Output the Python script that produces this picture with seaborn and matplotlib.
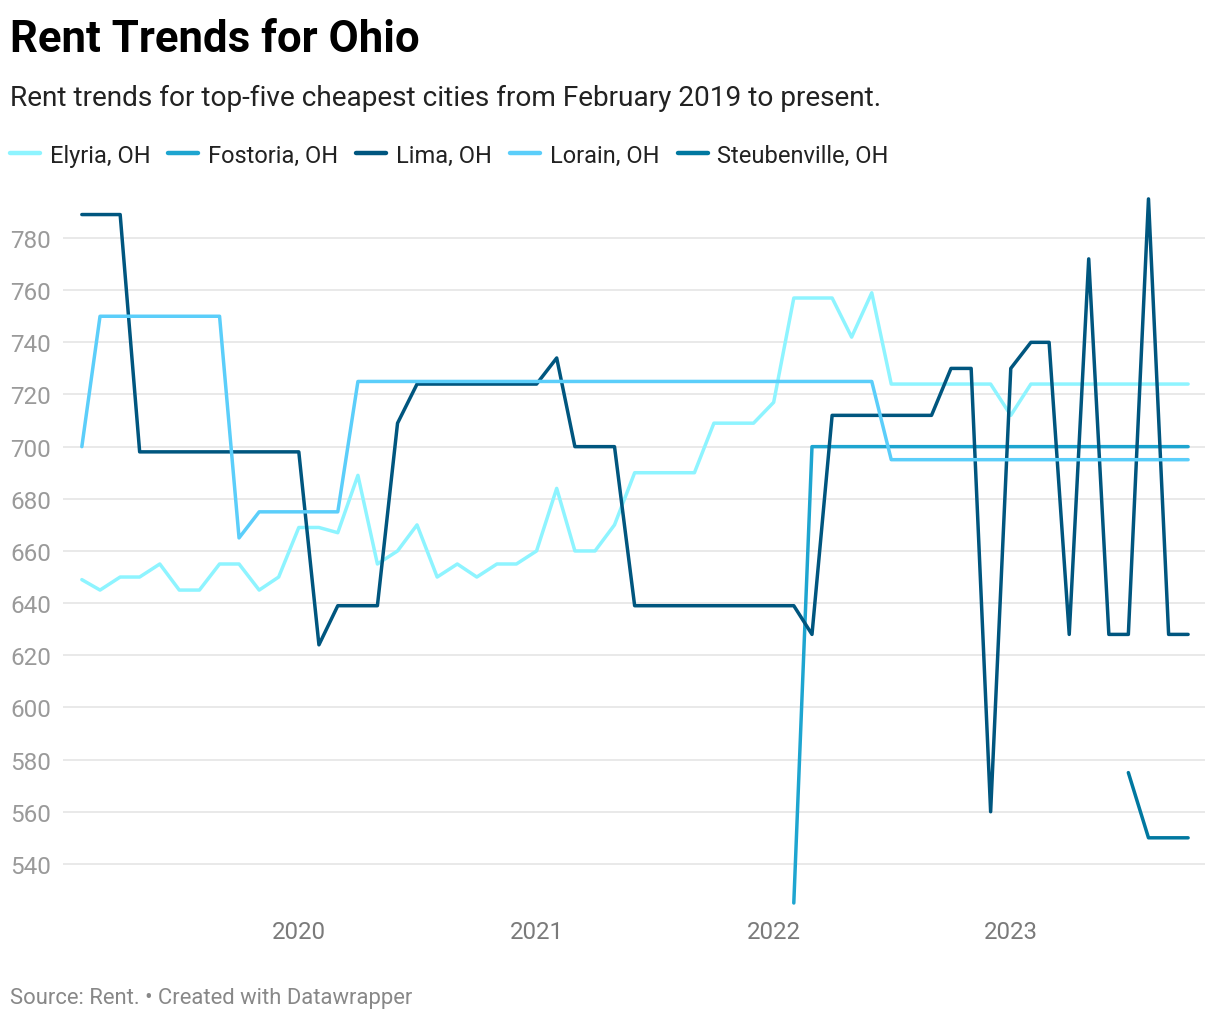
import matplotlib
matplotlib.use("Agg")
import matplotlib.pyplot as plt
import numpy as np
import pandas as pd
import seaborn as sns

# monthly rents, Feb 2019 .. Oct 2023 (57 months)
months = pd.date_range("2019-02-01", periods=57, freq="MS")

elyria = [649, 645, 650, 650, 655, 645, 645, 655, 655, 645, 650, 669, 669, 667, 689,
          655, 660, 670, 650, 655, 650, 655, 655, 660, 684, 660, 660, 670, 690, 690,
          690, 690, 709, 709, 709, 717, 757, 757, 757, 742, 759, 724, 724, 724, 724,
          724, 724, 712, 724, 724, 724, 724, 724, 724, 724, 724, 724]

fostoria = [np.nan] * 36 + [525] + [700] * 20

lima = [789, 789, 789, 698, 698, 698, 698, 698, 698, 698, 698, 698, 624, 639, 639,
        639, 709, 724, 724, 724, 724, 724, 724, 724, 734, 700, 700, 700, 639, 639,
        639, 639, 639, 639, 639, 639, 639, 628, 712, 712, 712, 712, 712, 712, 730,
        730, 560, 730, 740, 740, 628, 772, 628, 628, 795, 628, 628]

lorain = [700] + [750] * 7 + [665] + [675] * 5 + [725] * 27 + [695] * 16

steubenville = [np.nan] * 53 + [575, 550, 550, 550]

cities = ["Elyria, OH", "Fostoria, OH", "Lima, OH", "Lorain, OH", "Steubenville, OH"]
colors = ["#8ef4ff", "#1ea5d0", "#00567f", "#5bcefa", "#0078a0"]
yticks = [540, 560, 580, 600, 620, 640, 660, 680, 700, 720, 740, 760, 780]
years = ["2020", "2021", "2022", "2023"]

frames = []
for name, vals in zip(cities, [elyria, fostoria, lima, lorain, steubenville]):
    frames.append(pd.DataFrame({"month": months, "rent": vals, "city": name}))
df = pd.concat(frames, ignore_index=True)

sns.set_theme(style="white")
plt.rcParams["font.family"] = ["Roboto", "DejaVu Sans"]

fig = plt.figure(figsize=(12.2, 10.2), dpi=100)
ax = fig.add_axes([63 / 1220, 1 - 910 / 1020, (1205 - 63) / 1220, (910 - 190) / 1020])

sns.lineplot(data=df, x="month", y="rent", hue="city", hue_order=cities,
             palette=colors, linewidth=2.5, ax=ax, legend=False)

ax.set_ylim(522.7, 798.8)
ax.set_xlim(months[0] - pd.Timedelta(days=29), months[-1] + pd.Timedelta(days=26))
ax.set_yticks(yticks)
ax.set_yticklabels([str(v) for v in yticks])
ax.set_xticks(pd.to_datetime([y + "-01-01" for y in years]))
ax.set_xticklabels(years)
ax.grid(axis="y", color="#e3e3e3", linewidth=1.1)
ax.grid(axis="x", visible=False)
for s in ax.spines.values():
    s.set_visible(False)
ax.tick_params(axis="y", length=0, pad=38, labelsize=17.5, labelcolor="#9a9a9a")
ax.tick_params(axis="x", length=0, pad=8, labelsize=17.3, labelcolor="#7a7a7a")
for lab in ax.get_yticklabels():
    lab.set_horizontalalignment("left")
ax.set_xlabel("")
ax.set_ylabel("")

handles = [plt.Line2D([], [], color=c, linewidth=3.2) for c in colors]
fig.legend(handles, cities, loc="center left", bbox_to_anchor=(10 / 1220, 1 - 156 / 1020),
           ncol=5, frameon=False, fontsize=17, handlelength=1.27, handletextpad=0.42,
           columnspacing=0.76, borderpad=0, borderaxespad=0, labelcolor="#222222")

fig.text(10 / 1220, 1 - 52 / 1020, "Rent Trends for Ohio", fontsize=31.5, fontweight="bold",
         color="#000000", va="baseline")
fig.text(10 / 1220, 1 - 106 / 1020,
         "Rent trends for top-five cheapest cities from February 2019 to present.",
         fontsize=20.2, color="#222222", va="baseline")
fig.text(10 / 1220, 1 - 1004 / 1020, "Source: Rent. \u2022 Created with Datawrapper",
         fontsize=15.8, color="#888888", va="baseline")

fig.savefig("out.png", dpi=100)
